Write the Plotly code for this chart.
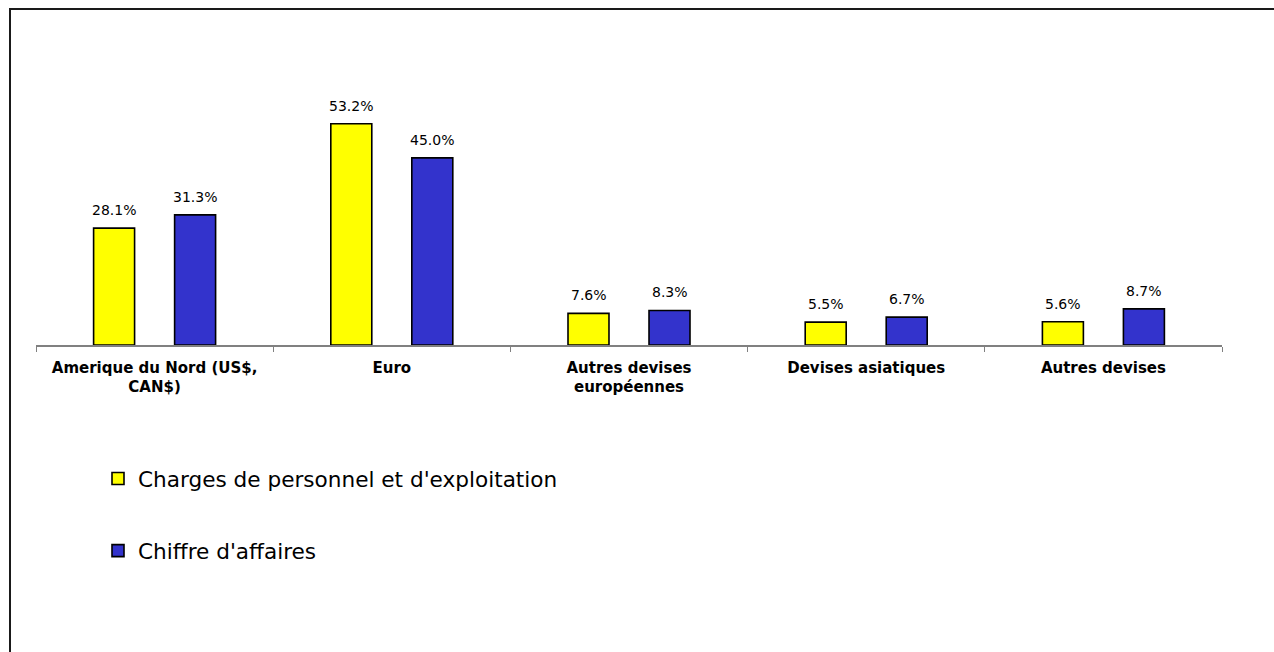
import plotly.graph_objects as go

categories = ["Amerique du Nord (US$,<br>CAN$)", "Euro", "Autres devises<br>européennes",
              "Devises asiatiques", "Autres devises"]
series_names = ["Charges de personnel et d'exploitation", "Chiffre d'affaires"]
charges = [28.1, 53.2, 7.6, 5.5, 5.6]
chiffre = [31.3, 45.0, 8.3, 6.7, 8.7]
colors = ["#FFFF00", "#3333CC"]

W, H = 1274, 652
plot_left, plot_right, plot_top, plot_bottom = 36, 1222, 20, 345
bargap = 0.317
bargroupgap = 0.494
FONT = "DejaVu Sans"

def fx(p):
    return p / W

def fy(p):
    return 1 - p / H

fig = go.Figure()
for name, vals, col in zip(series_names, [charges, chiffre], colors):
    fig.add_trace(go.Bar(
        x=categories, y=vals, name=name, legendgroup=name,
        marker=dict(color=col, line=dict(color="#000000", width=1.6)),
        hoverinfo="x+y",
    ))

# empty trace on a frame axis pair that draws the chart-area border (left + top)
fig.add_trace(go.Scatter(x=[], y=[], xaxis="x2", yaxis="y2", showlegend=False,
                         hoverinfo="skip"))

off = (1 - bargap) / 4
annotations = []
for k, vals in enumerate([charges, chiffre]):
    sign = -1 if k == 0 else 1
    for i, v in enumerate(vals):
        annotations.append(dict(
            x=i + sign * off, y=v, xref="x", yref="y", text=f"{v:.1f}%",
            showarrow=False, yanchor="middle", yshift=18,
            font=dict(family=FONT, size=14, color="#000000"),
        ))

plot_h = plot_bottom - plot_top
frame = dict(showline=True, linecolor="#1a1a1a", linewidth=2, showticklabels=False,
             ticks="", showgrid=False, zeroline=False, fixedrange=True, range=[0, 1],
             automargin=False)
fig.update_layout(
    width=W, height=H,
    margin=dict(l=0, r=0, t=0, b=0, pad=0),
    paper_bgcolor="#FFFFFF", plot_bgcolor="rgba(0,0,0,0)",
    barmode="group", bargap=bargap, bargroupgap=bargroupgap,
    showlegend=True,
    legend=dict(
        x=fx(98), y=fy(458), xanchor="left", yanchor="top",
        font=dict(family=FONT, size=21.6, color="#000000"),
        tracegroupgap=41, traceorder="grouped",
        bgcolor="rgba(0,0,0,0)",
    ),
    xaxis=dict(
        type="category", range=[-0.5, 4.5], domain=[fx(plot_left), fx(plot_right)],
        showline=True, linecolor="#808080", linewidth=1.5,
        ticks="outside", tickson="boundaries", ticklen=5, tickcolor="#808080", tickwidth=1,
        tickfont=dict(family=FONT, size=15, color="#000000", weight="bold"),
        ticklabelstandoff=8, automargin=False,
        showgrid=False, zeroline=False, fixedrange=True,
    ),
    yaxis=dict(visible=False, range=[0, plot_h / 4.158], domain=[fy(plot_bottom), fy(plot_top)],
               showgrid=False, zeroline=False, fixedrange=True, automargin=False),
    xaxis2=dict(domain=[fx(10.5), 1], anchor="y2", side="top", **frame),
    yaxis2=dict(domain=[0, fy(9.5)], anchor="x2", side="left", **frame),
    annotations=annotations,
)

fig.write_html("out.html", config={"displayModeBar": False})
